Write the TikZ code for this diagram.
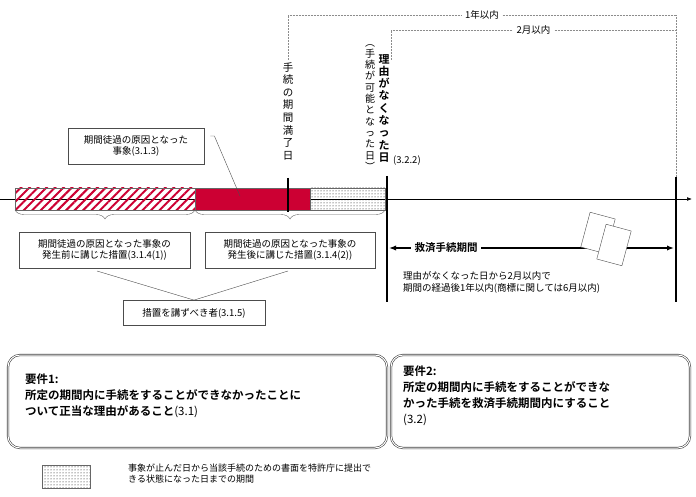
\documentclass[tikz,border=0pt]{standalone}
\usepackage{fontspec}
\setmainfont{Noto Sans CJK JP}
\newfontfamily\cjkb{Noto Sans CJK JP}[BoldFont={* Bold}]
\usetikzlibrary{%
        arrows.meta,
        decorations.pathreplacing,
        patterns,
        patterns.meta,
        positioning,
        shapes}
\definecolor{deepred}{RGB}{204,0,51}
\tikzset{%
    box/.style={draw=black!70, line width=0.8pt, inner sep=2pt, font=\fontsize{9.5}{11.5}\selectfont, align=center},
    guide/.style={densely dotted, black!45, line width=0.5pt},
    brace/.style={decorate, decoration={brace, mirror, amplitude=9pt}, black!60},
    req/.style={draw=black!75, double=white, double distance=1pt, rounded corners=12pt, line width=0.6pt},
    vtxt/.style={align=center, inner sep=0pt, font=\fontsize{10.5}{12.6}\selectfont}
}
\begin{document}
\begin{tikzpicture}[x=1pt, y=-1pt]
    \useasboundingbox (0, 0) rectangle (696, 497);

    % timeline and bar
    \draw[-{Latex[length=5pt]}, line width=0.6pt] (0, 199) -- (692, 199);
    \draw[pattern={Lines[angle=45, distance=6pt, line width=2pt]}, pattern color=deepred, draw=black!60] (15, 188) rectangle (195, 210);
    \fill[deepred, draw=black!60] (195, 188) rectangle (310, 210);
    \draw[pattern=dots, draw=black!60] (310, 188) rectangle (385, 210);
    \draw[line width=1.6pt] (288, 178) -- (288, 212);

    \coordinate (relief) at (387, 176);
    \coordinate (limit) at (676, 177);
    \draw[line width=1.4pt] (relief) -- ++(0, 126);
    \draw[line width=1.4pt] (limit) -- ++(0, 125);

    % dotted spans
    \draw[guide] (288, 60) |- (676, 15) node[pos=0.75, fill=white, text=black, font=\fontsize{9.5}{11}\selectfont] {1年以内} -- (limit);
    \draw[guide] (391, 60) |- (676, 30) node[pos=0.75, fill=white, text=black, font=\fontsize{9.5}{11}\selectfont] {2月以内};

    % vertical labels
    \node[vtxt, anchor=north] (expiry) at (288, 62) {手\\続\\の\\期\\間\\満\\了\\日};
    \node[vtxt, anchor=north, font=\fontsize{10}{11.3}\selectfont] (possible) at (370, 44) {︵\\手\\続\\が\\可\\能\\と\\な\\っ\\た\\日\\︶};
    \node[vtxt, anchor=north, font=\cjkb\bfseries\fontsize{11}{12.3}\selectfont] (noreason) at (384, 54) {理\\由\\が\\な\\く\\な\\っ\\た\\日};
    \node[anchor=west, font=\fontsize{9.5}{11}\selectfont, inner sep=0pt] at (393, 161) {(3.2.2)};

    % event box
    \node[box, minimum width=136pt, minimum height=36pt] (event) at (136, 146) {期間徒過の原因となった\\事象(3.1.3)};
    \coordinate (eventtip) at (240, 196);
    \draw[black!70] (event.east) ++(6, -10) -- ++(4, 0) -- (eventtip);

    % braces and measure boxes
    \draw[brace] (15, 210) -- (195, 210);
    \draw[brace] (195, 210) -- (385, 210);
    \node[box, minimum width=171pt, minimum height=36pt] (before) at (104.5, 250) {期間徒過の原因となった事象の\\発生前に講じた措置(3.1.4(1))};
    \node[box, minimum width=170pt, minimum height=36pt] (after) at (290, 250) {期間徒過の原因となった事象の\\発生後に講じた措置(3.1.4(2))};
    \node[box, minimum width=142pt, minimum height=25pt] (actor) at (194, 313) {措置を講ずべき者(3.1.5)};
    \draw[black!70] (97, 271) -- (actor.north) -- (288, 271);

    % relief period
    \coordinate (relief2) at (389, 248);
    \draw[{Latex[length=7pt]}-{Latex[length=7pt]}, line width=1.8pt] (relief2) -- (674, 248)
        node[pos=0.2, fill=white, text=black, font=\cjkb\bfseries\fontsize{10.5}{12}\selectfont] (reliefname) {救済手続期間};
    \draw[fill=white, draw=black!70, rotate around={-15:(598,233)}] (585, 215) rectangle (611, 251);
    \draw[fill=white, draw=black!70, rotate around={-15:(614,245)}] (601, 227) rectangle (627, 263);
    \node[anchor=north west, align=left, font=\fontsize{9.5}{12}\selectfont, inner sep=0pt] (reliefnote) at (403, 271)
        {理由がなくなった日から2月以内で\\期間の経過後1年以内(商標に関しては6月以内)};

    % requirements
    \draw[req] (8, 355) rectangle (387, 448);
    \draw[req] (391, 355) rectangle (690, 448);
    \node[anchor=north west, align=left, font=\cjkb\bfseries\fontsize{11.5}{16}\selectfont, inner sep=0pt] (req1) at (25, 374)
        {要件1:\\所定の期間内に手続をすることができなかったことに\\ついて正当な理由があること\mdseries(3.1)};
    \node[anchor=north west, align=left, font=\cjkb\bfseries\fontsize{11.5}{16}\selectfont, inner sep=0pt] (req2) at (403, 366)
        {要件2:\\所定の期間内に手続をすることができな\\かった手続を救済手続期間内にすること\\\mdseries(3.2)};

    % legend
    \draw[pattern=dots, draw=black!60] (42, 465) rectangle (90, 488);
    \node[anchor=north west, align=left, font=\fontsize{9}{11}\selectfont, inner sep=0pt] (legend) at (128, 464)
        {事象が止んだ日から当該手続のための書面を特許庁に提出で\\きる状態になった日までの期間};
\end{tikzpicture}
\end{document}
